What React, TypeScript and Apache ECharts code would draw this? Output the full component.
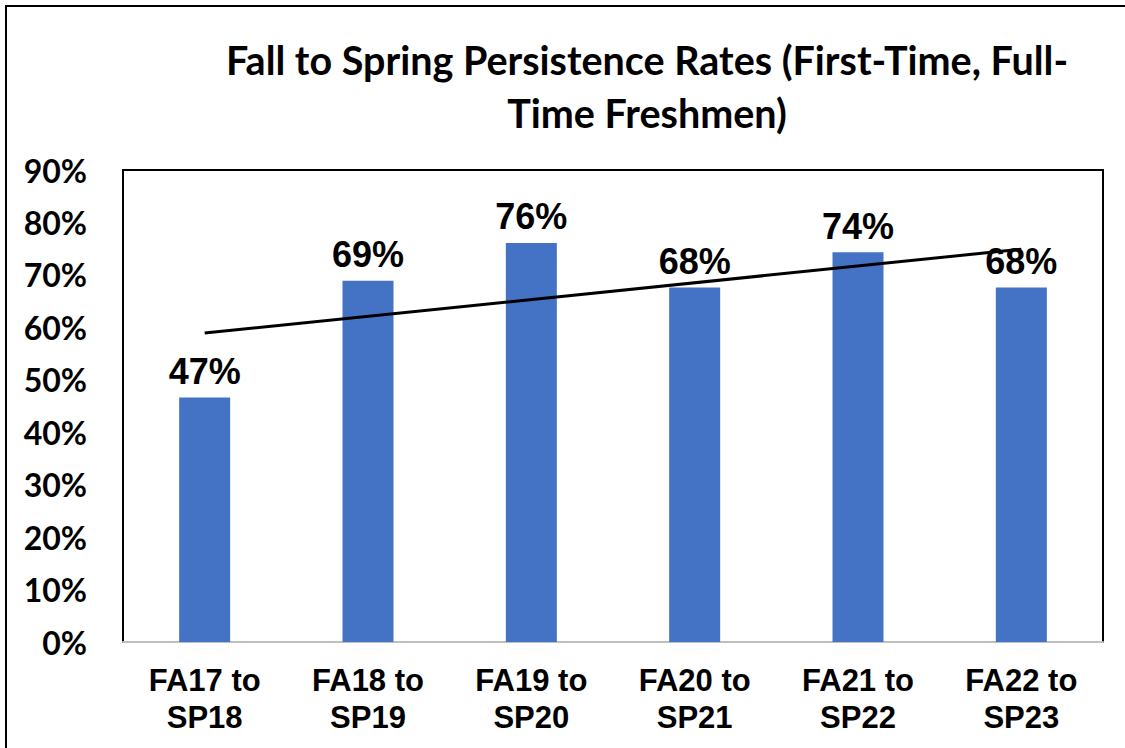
import React, { useEffect, useRef } from "react";
import * as echarts from "echarts";

const categories = [
  "FA17 to\nSP18",
  "FA18 to\nSP19",
  "FA19 to\nSP20",
  "FA20 to\nSP21",
  "FA21 to\nSP22",
  "FA22 to\nSP23",
];
const rates = [46.6, 68.9, 76.1, 67.6, 74.3, 67.6];
const trendStartEnd = [58.9, 74.9];
const yTicks = [0, 10, 20, 30, 40, 50, 60, 70, 80, 90];
const titleText = "Fall to Spring Persistence Rates (First-Time, Full-\nTime Freshmen)";

export default function App() {
  const ref = useRef<HTMLDivElement>(null);
  useEffect(() => {
    document.body.style.margin = "0";
    const chart = echarts.init(ref.current!, null, { renderer: "svg" });
    const trendData = categories.map((_, i) =>
      i === 0 ? trendStartEnd[0] : i === categories.length - 1 ? trendStartEnd[1] : null
    );
    chart.setOption({
      animation: false,
      backgroundColor: "#ffffff",
      title: {
        text: titleText,
        left: 642,
        top: 28,
        padding: 5,
        textAlign: "center",
        textStyle: {
          fontFamily: "Lato",
          fontWeight: "bold",
          fontSize: 39.5,
          lineHeight: 53,
          color: "#000000",
        },
      },
      graphic: [
        {
          type: "rect",
          shape: { x: 6, y: 6, width: 1140, height: 780 },
          style: { fill: "none", stroke: "#000000", lineWidth: 2 },
          silent: true,
        },
      ],
      grid: {
        left: 123,
        top: 170,
        right: 22,
        bottom: 106,
        show: true,
        borderColor: "#000000",
        borderWidth: 2,
        containLabel: false,
      },
      xAxis: {
        type: "category",
        data: categories,
        axisLine: { show: true, lineStyle: { color: "#BFBFBF", width: 2 } },
        axisTick: { show: false },
        axisLabel: {
          fontFamily: "Liberation Sans",
          fontWeight: "bold",
          fontSize: 31,
          lineHeight: 37,
          color: "#000000",
          margin: 20,
          interval: 0,
        },
      },
      yAxis: {
        type: "value",
        min: 0,
        max: 90,
        interval: 10,
        splitLine: { show: false },
        axisLine: { show: false },
        axisTick: { show: false },
        axisLabel: {
          fontFamily: "Lato",
          fontWeight: "bold",
          fontSize: 32,
          color: "#000000",
          margin: 36,
          formatter: (v: number) => (yTicks.includes(v) ? `${v}%` : ""),
        },
      },
      series: [
        {
          type: "bar",
          data: rates,
          barWidth: 51,
          itemStyle: { color: "#4472C4" },
          label: {
            show: true,
            position: "top",
            distance: 8,
            fontFamily: "Liberation Sans",
            fontWeight: "bold",
            fontSize: 36,
            color: "#000000",
            formatter: (p: any) => `${Math.round(p.value)}%`,
          },
          z: 2,
        },
        {
          type: "line",
          data: trendData,
          connectNulls: true,
          symbol: "none",
          lineStyle: { color: "#000000", width: 3 },
          z: 3,
        },
      ],
    });
    return () => chart.dispose();
  }, []);
  return <div ref={ref} style={{ width: 1125, height: 748 }} />;
}
